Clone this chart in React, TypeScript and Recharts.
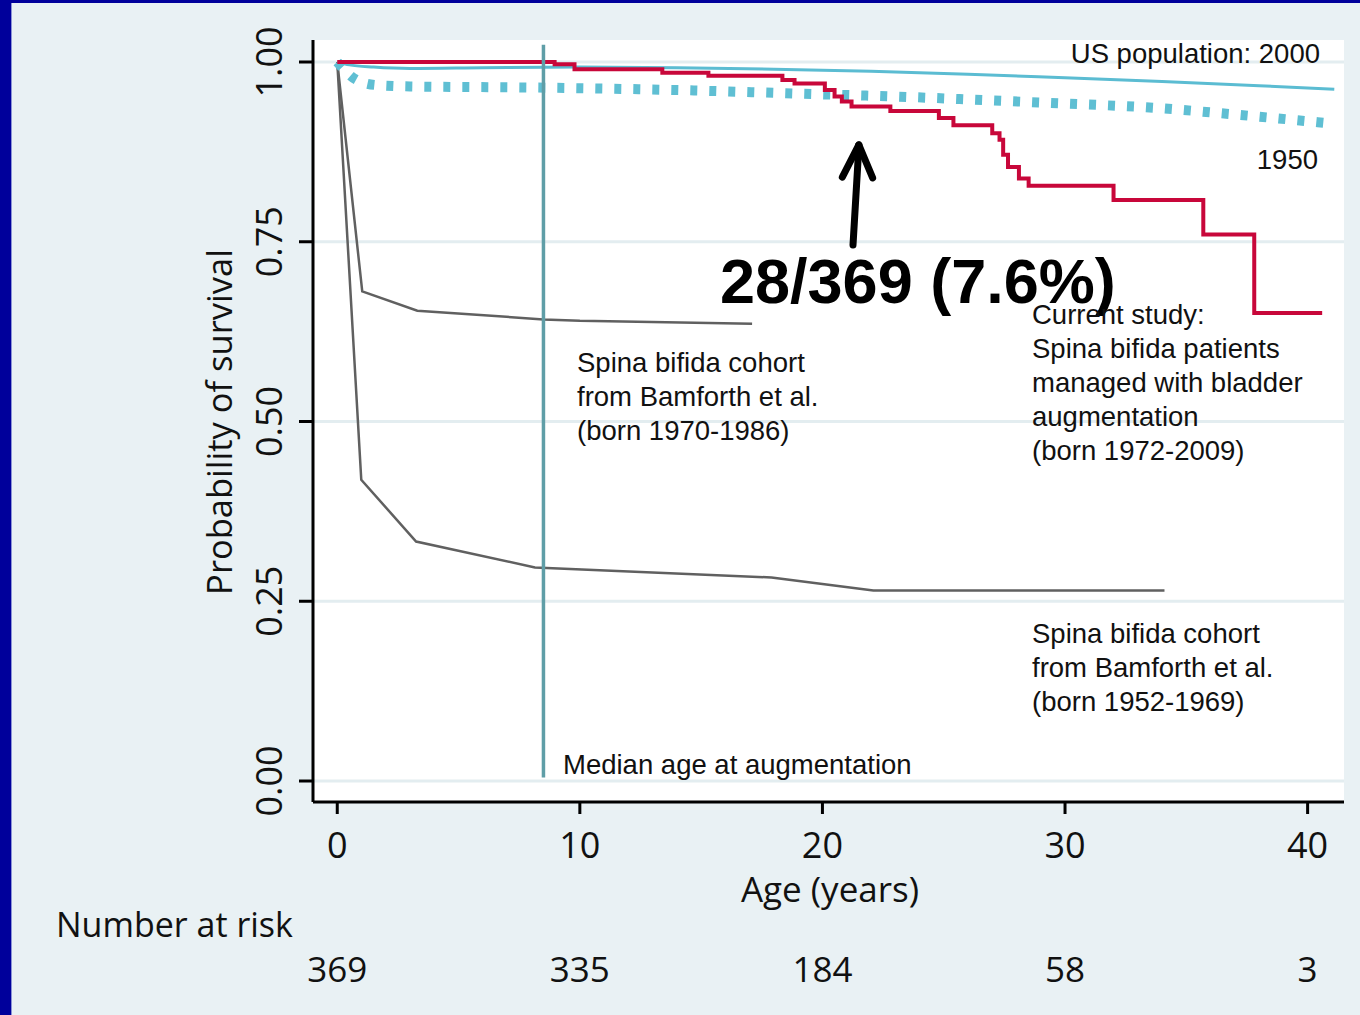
import React from 'react'
import { LineChart, Line, XAxis, YAxis, CartesianGrid, ReferenceLine } from 'recharts'

// ── data ───────────────────────────────────────────────────────────────────
const AGE_TICKS = [0, 10, 20, 30, 40]
const AT_RISK = [369, 335, 184, 58, 3]
const SURV_TICKS = [0, 0.25, 0.5, 0.75, 1]

// current study (Kaplan-Meier, step)
const currentAge = [0, 8.96, 9.78, 13.4, 15.3, 18.35, 18.85, 20.1, 20.5, 20.8, 21.2, 22.8, 24.8, 25.4, 27.0, 27.3, 27.45, 27.65, 28.1, 28.5, 32.0, 35.7, 37.8, 40.6]
const currentSurv = [1.0, 0.997, 0.99, 0.985, 0.981, 0.975, 0.97, 0.961, 0.952, 0.945, 0.938, 0.932, 0.922, 0.912, 0.901, 0.892, 0.871, 0.854, 0.838, 0.828, 0.808, 0.76, 0.651, 0.651]

// US population 2000
const us2000Age = [0, 0.5, 1.5, 3, 6, 10, 14, 18, 22, 26, 30, 34, 38, 41.1]
const us2000Surv = [1.0, 0.996, 0.993, 0.991, 0.992, 0.993, 0.992, 0.99, 0.987, 0.983, 0.978, 0.973, 0.967, 0.962]

// US population 1950
const us1950Age = [0, 0.8, 1.6, 3, 8, 14, 20, 23, 26, 29.4, 33.8, 37, 41.1]
const us1950Surv = [1.0, 0.975, 0.968, 0.966, 0.9645, 0.961, 0.955, 0.952, 0.948, 0.943, 0.936, 0.927, 0.914]

// Bamforth cohort born 1970-1986
const bam70Age = [0, 1.03, 3.3, 8.5, 10, 17.1]
const bam70Surv = [1.0, 0.681, 0.654, 0.642, 0.64, 0.636]

// Bamforth cohort born 1952-1969
const bam52Age = [0, 0.99, 3.25, 8.15, 17.9, 22.1, 34.1]
const bam52Surv = [1.0, 0.419, 0.333, 0.297, 0.283, 0.265, 0.265]

const MEDIAN_AGE = 8.5

const toRows = (ages: number[], surv: number[]) => ages.map((a, i) => ({ age: a, s: surv[i] }))

// ── styles ─────────────────────────────────────────────────────────────────
const AXIS_FONT = '"Open Sans", "Noto Sans", sans-serif'
const NOTE_FONT = '"Liberation Sans", Arial, sans-serif'
const BG = '#e9f1f4'
const NAVY = '#00009b'

function XTick(props: any) {
  const { x, y, payload, index } = props
  return (
    <g>
      <text x={x} y={y + 42} textAnchor="middle" fontSize={36} fontFamily={AXIS_FONT} fill="#111">
        {payload.value}
      </text>
      <text x={x} y={y + 166} textAnchor="middle" fontSize={35} fontFamily={AXIS_FONT} fill="#111">
        {AT_RISK[index]}
      </text>
    </g>
  )
}

function YTick(props: any) {
  const { x, y, payload } = props
  return (
    <text
      x={x - 15}
      y={y}
      transform={`rotate(-90 ${x - 15} ${y})`}
      textAnchor="middle"
      fontSize={36}
      fontFamily={AXIS_FONT}
      fill="#111"
    >
      {payload.value.toFixed(2)}
    </text>
  )
}

const note = { fontFamily: NOTE_FONT, fontSize: 27.5, fill: '#111' }

export default function App() {
  return (
    <div style={{ position: 'absolute', left: 0, top: 0, width: 1360, height: 1015, background: BG, overflow: 'hidden' }}>
      <div style={{ position: 'absolute', left: 0, top: 0, width: 11, height: 1015, background: NAVY }} />
      <div style={{ position: 'absolute', left: 11, top: 0, width: 1, height: 1015, background: '#8c93d6' }} />
      <div style={{ position: 'absolute', left: 0, top: 0, width: 1360, height: 3, background: NAVY }} />

      <div style={{ position: 'absolute', left: 0, top: 0 }}>
        <LineChart width={1360} height={1015} margin={{ top: 40, right: 16, bottom: 153, left: 253 }}>
          <CartesianGrid vertical={false} fill="#ffffff" stroke="#e3edf0" strokeWidth={3} horizontalValues={SURV_TICKS} />
          <XAxis
            dataKey="age"
            type="number"
            domain={[-1, 41.5]}
            ticks={AGE_TICKS}
            allowDataOverflow
            height={60}
            stroke="#000"
            strokeWidth={3}
            tickSize={12}
            tickMargin={2}
            tickLine={{ stroke: '#000', strokeWidth: 3 }}
            tick={<XTick />}
            interval={0}
          />
          <YAxis
            type="number"
            domain={[-0.0292, 1.0306]}
            ticks={SURV_TICKS}
            allowDataOverflow
            width={60}
            stroke="#000"
            strokeWidth={3}
            tickSize={14}
            tickMargin={2}
            tickLine={{ stroke: '#000', strokeWidth: 3 }}
            tick={<YTick />}
            interval={0}
          />

          <Line data={toRows(bam70Age, bam70Surv)} dataKey="s" type="linear" stroke="#606060" strokeWidth={2.5} dot={false} activeDot={false} isAnimationActive={false} />
          <Line data={toRows(bam52Age, bam52Surv)} dataKey="s" type="linear" stroke="#606060" strokeWidth={2.5} dot={false} activeDot={false} isAnimationActive={false} />
          <Line data={toRows(us1950Age, us1950Surv)} dataKey="s" type="monotone" stroke="#5fbfd3" strokeWidth={10} strokeDasharray="7 12" dot={false} activeDot={false} isAnimationActive={false} />
          <Line data={toRows(us2000Age, us2000Surv)} dataKey="s" type="monotone" stroke="#5bbcd2" strokeWidth={3} dot={false} activeDot={false} isAnimationActive={false} />
          <Line data={toRows(currentAge, currentSurv)} dataKey="s" type="stepAfter" stroke="#c8073a" strokeWidth={4} dot={false} activeDot={false} isAnimationActive={false} />

          {/* median age at augmentation */}
          <ReferenceLine segment={[{ x: MEDIAN_AGE, y: 0.005 }, { x: MEDIAN_AGE, y: 1.024 }]} stroke="#5f9ea7" strokeWidth={3.5} />

          {/* arrow */}
          <ReferenceLine segment={[{ x: 21.26, y: 0.7455 }, { x: 21.5, y: 0.882 }]} stroke="#000" strokeWidth={7} strokeLinecap="round" />
          <ReferenceLine segment={[{ x: 20.82, y: 0.84 }, { x: 21.5, y: 0.8846 }]} stroke="#000" strokeWidth={7} strokeLinecap="round" />
          <ReferenceLine segment={[{ x: 22.07, y: 0.8387 }, { x: 21.5, y: 0.8846 }]} stroke="#000" strokeWidth={7} strokeLinecap="round" />
        </LineChart>
      </div>

      <svg width={1360} height={1015} style={{ position: 'absolute', left: 0, top: 0, pointerEvents: 'none' }}>
        <text x={232} y={422} transform="rotate(-90 232 422)" textAnchor="middle" fontSize={34.5} fontFamily={AXIS_FONT} fill="#111">
          Probability of survival
        </text>
        <text x={830} y={902} textAnchor="middle" fontSize={35} fontFamily={AXIS_FONT} fill="#111">Age (years)</text>
        <text x={56} y={937} fontSize={34} fontFamily={AXIS_FONT} fill="#111">Number at risk</text>

        <text x={1320} y={63} textAnchor="end" {...note}>US population: 2000</text>
        <text x={1318} y={169} textAnchor="end" {...note}>1950</text>

        <text x={720} y={303} fontFamily={NOTE_FONT} fontSize={63} fontWeight="bold" fill="#000">28/369 (7.6%)</text>

        <text x={1032} y={324} {...note}>Current study:</text>
        <text x={1032} y={358} {...note}>Spina bifida patients</text>
        <text x={1032} y={392} {...note}>managed with bladder</text>
        <text x={1032} y={426} {...note}>augmentation</text>
        <text x={1032} y={460} {...note}>(born 1972-2009)</text>

        <text x={577} y={372} {...note}>Spina bifida cohort</text>
        <text x={577} y={406} {...note}>from Bamforth et al.</text>
        <text x={577} y={440} {...note}>(born 1970-1986)</text>

        <text x={1032} y={643} {...note}>Spina bifida cohort</text>
        <text x={1032} y={677} {...note}>from Bamforth et al.</text>
        <text x={1032} y={711} {...note}>(born 1952-1969)</text>

        <text x={563} y={774} {...note}>Median age at augmentation</text>
      </svg>
    </div>
  )
}
